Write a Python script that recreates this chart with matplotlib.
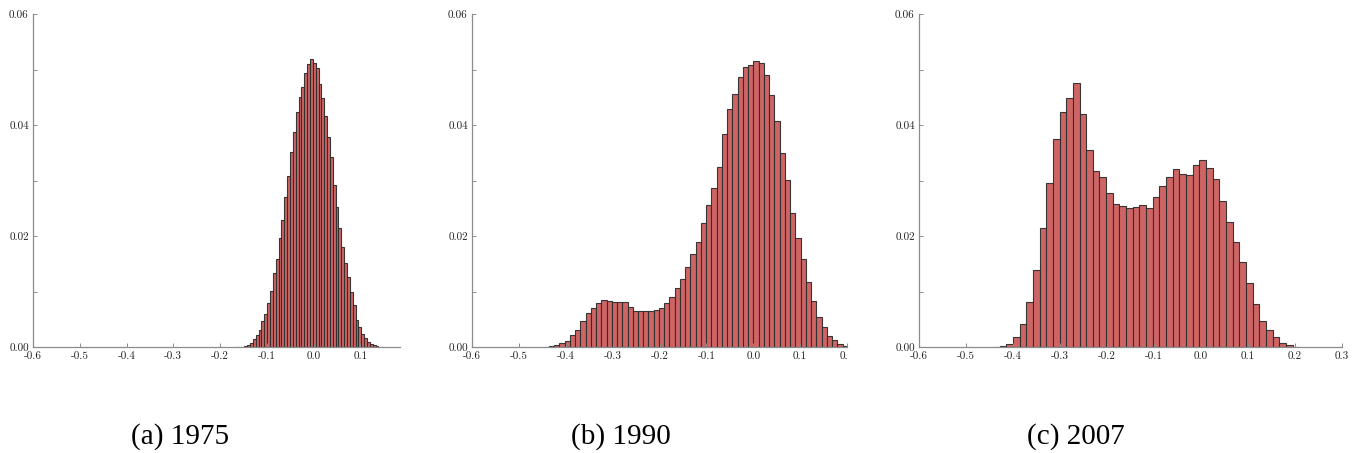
import numpy as np
import matplotlib
matplotlib.use("Agg")
import matplotlib.pyplot as plt
from matplotlib.ticker import MultipleLocator
from matplotlib.transforms import Bbox, TransformedBbox

# Histogram densities for each year (bins of equal width)
years = ["1975", "1990", "2007"]
captions = ["(a) 1975", "(b) 1990", "(c) 2007"]

bin_start_1975 = -0.1662
bin_width_1975 = 0.0061
density_1975 = [
    0.00003, 0.00006, 0.00012, 0.00024, 0.00048, 0.00084, 0.00150, 0.00216,
    0.00312, 0.00474, 0.00595, 0.00793, 0.01021, 0.01333, 0.01592, 0.01970,
    0.02294, 0.02715, 0.03087, 0.03526, 0.03880, 0.04234, 0.04505, 0.04685,
    0.04937, 0.05105, 0.05195, 0.05117, 0.05027, 0.04745, 0.04487, 0.04168,
    0.03796, 0.03435, 0.02919, 0.02535, 0.02144, 0.01814, 0.01513, 0.01261,
    0.00991, 0.00763, 0.00492, 0.00372, 0.00240, 0.00162, 0.00102, 0.00066,
    0.00042, 0.00024, 0.00010, 0.00005,
]

bin_start_1990 = -0.4473
bin_width_1990 = 0.01119
density_1990 = [
    0.00006, 0.00018, 0.00036, 0.00070, 0.00120, 0.00216, 0.00312, 0.00468,
    0.00625, 0.00703, 0.00793, 0.00847, 0.00841, 0.00823, 0.00823, 0.00817,
    0.00727, 0.00649, 0.00649, 0.00649, 0.00661, 0.00679, 0.00715, 0.00793,
    0.00907, 0.01069, 0.01225, 0.01447, 0.01676, 0.01898, 0.02234, 0.02571,
    0.02865, 0.03255, 0.03838, 0.04288, 0.04565, 0.04865, 0.05057, 0.05093,
    0.05153, 0.05123, 0.04913, 0.04541, 0.04078, 0.03508, 0.03009, 0.02420,
    0.01976, 0.01592, 0.01171, 0.00829, 0.00553, 0.00360, 0.00204, 0.00126,
    0.00060, 0.00018,
]

bin_start_2007 = -0.4427
bin_width_2007 = 0.01417
density_2007 = [
    0.00006, 0.00024, 0.00066, 0.00186, 0.00426, 0.00811, 0.01387, 0.02144,
    0.02967, 0.03748, 0.04234, 0.04492, 0.04763, 0.04198, 0.03556, 0.03177,
    0.03063, 0.02787, 0.02577, 0.02553, 0.02505, 0.02529, 0.02565, 0.02517,
    0.02715, 0.02907, 0.03063, 0.03207, 0.03123, 0.03111, 0.03291, 0.03369,
    0.03237, 0.03027, 0.02643, 0.02258, 0.01898, 0.01532, 0.01153, 0.00787,
    0.00468, 0.00312, 0.00180, 0.00084, 0.00036, 0.00006,
]

x_limits = [(-0.6, 0.185), (-0.6, 0.2), (-0.6, 0.3)]

panels = [
    (bin_start_1975, bin_width_1975, density_1975),
    (bin_start_1990, bin_width_1990, density_1990),
    (bin_start_2007, bin_width_2007, density_2007),
]

W, H = 1358, 453
fig = plt.figure(figsize=(W / 100, H / 100), dpi=100)

# axes boxes in pixels: left, right
boxes = [(33, 400), (472, 847), (919, 1342)]
top_px, bottom_px = 14.3, 347.3
caption_x = [180, 621, 1076]

spine_col = "#8c8c8c"
tick_font = {"family": "cmr10", "size": 8}

for i, ((start, width, dens), (l, r), xl) in enumerate(zip(panels, boxes, x_limits)):
    ax = fig.add_axes([l / W, (H - bottom_px) / H, (r - l) / W, (bottom_px - top_px) / H])
    lefts = start + width * np.arange(len(dens))
    ax.bar(lefts, dens, width=width, align="edge", color="#cd5c5c",
           edgecolor="#2e2e2e", linewidth=0.8, alpha=0.95)
    ax.set_xlim(*xl)
    ax.set_ylim(0, 0.06)

    for s in ("top", "right"):
        ax.spines[s].set_visible(False)
    for s in ("left", "bottom"):
        ax.spines[s].set_color(spine_col)
        ax.spines[s].set_linewidth(0.9)

    xt = np.round(np.arange(-0.6, xl[1] + 1e-9, 0.1), 1)
    ax.set_xticks(xt)
    ax.set_xticklabels([f"{v:.1f}" if v != 0 else "0.0" for v in xt], fontdict=tick_font)
    yt = [0.0, 0.02, 0.04, 0.06]
    ax.set_yticks(yt)
    ax.set_yticklabels([f"{v:.2f}" for v in yt], fontdict=tick_font)
    ax.yaxis.set_minor_locator(MultipleLocator(0.01))
    ax.tick_params(which="both", direction="in", length=3, width=0.7,
                   color=spine_col, labelcolor="#222222", pad=3)

    if i == 1:
        # the last tick label of the middle panel is cut off at the panel edge
        lbl = ax.get_xticklabels()[-1]
        lbl.set_clip_on(True)
        lbl.set_clip_box(TransformedBbox(Bbox([[0, 0], [848 / W, 1]]), fig.transFigure))

    fig.text(caption_x[i] / W, 1 - 437 / H, captions[i], ha="center", va="center",
             fontsize=21, family="Liberation Serif")

fig.savefig("out.png", dpi=100)
